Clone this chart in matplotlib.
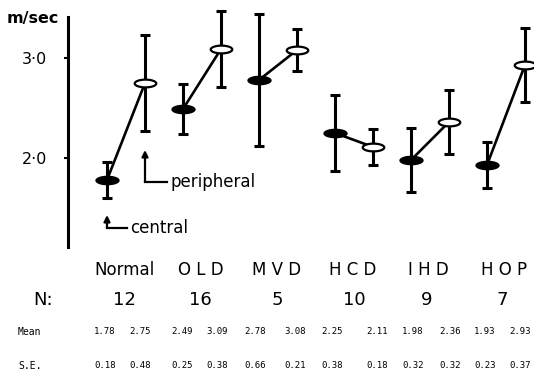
import numpy as np
import matplotlib
matplotlib.use('Agg')
import matplotlib.pyplot as plt
from matplotlib.path import Path

groups = ['Normal', 'O L D', 'M V D', 'H C D', 'I H D', 'H O P']
n_cases = [12, 16, 5, 10, 9, 7]
mean_central = [1.78, 2.49, 2.78, 2.25, 1.98, 1.93]
mean_peripheral = [2.75, 3.09, 3.08, 2.11, 2.36, 2.93]
se_central = [0.18, 0.25, 0.66, 0.38, 0.32, 0.23]
se_peripheral = [0.48, 0.38, 0.21, 0.18, 0.32, 0.37]

W, H = 534, 378

def fpos(x, y):
    # pixel position -> figure fraction
    return x / W, 1 - y / H

fig = plt.figure(figsize=(W / 100, H / 100), dpi=100)

# y: 3.0 at 58 px, 2.0 at 158 px ; x: slot 0 at 107 px, 38 px per slot
ylo, yhi = 1.10, 3.50
top_px = 58 - (yhi - 3.0) * 100
bot_px = 158 + (2.0 - ylo) * 100
ax = fig.add_axes([68 / W, 1 - bot_px / H, 1 - 68 / W, (bot_px - top_px) / H])
ax.set_xlim(-39 / 38, (W - 107) / 38)
ax.set_ylim(ylo, yhi)

x_c = np.arange(len(groups)) * 2.0
x_p = x_c + 1.0

# ellipse marker
t = np.linspace(0, 2 * np.pi, 80)
ell = Path(np.column_stack([np.cos(t), 0.36 * np.sin(t)]), closed=True)

for i in range(len(groups)):
    ax.plot([x_c[i], x_p[i]], [mean_central[i], mean_peripheral[i]],
            color='k', lw=1.9, zorder=2)

ax.errorbar(x_c, mean_central, yerr=se_central, fmt='none', ecolor='k',
            elinewidth=2.2, capsize=3.6, capthick=2.2, zorder=3)
ax.errorbar(x_p, mean_peripheral, yerr=se_peripheral, fmt='none', ecolor='k',
            elinewidth=2.2, capsize=3.6, capthick=2.2, zorder=3)
ax.plot(x_c, mean_central, ls='none', marker=ell, ms=16.5, mfc='k', mec='k',
        zorder=4, clip_on=False)
ax.plot(x_p, mean_peripheral, ls='none', marker=ell, ms=15.5, mfc='white',
        mec='k', mew=1.6, zorder=4, clip_on=False)

for s in ['top', 'right', 'bottom']:
    ax.spines[s].set_visible(False)
ax.spines['left'].set_linewidth(2.2)
ax.spines['left'].set_bounds(1.11, 3.41)
ax.set_xticks([])
ax.set_yticks([2.0, 3.0])
ax.set_yticklabels(['2·0', '3·0'], fontsize=11.5)
ax.tick_params(axis='y', length=3, width=1.5, pad=12)

fig.text(*fpos(7, 19), 'm/sec', fontsize=11.5, fontweight='bold',
         ha='left', va='center')

# arrows
ax.annotate('', xy=(0, 1.43), xytext=(0, 1.30),
            arrowprops=dict(arrowstyle='-|>', color='k', lw=1.6,
                            mutation_scale=9, shrinkA=0, shrinkB=0))
ax.plot([0, 0.53], [1.30, 1.30], color='k', lw=1.6)
ax.text(0.61, 1.30, 'central', fontsize=12, ha='left', va='center')

ax.annotate('', xy=(1, 2.08), xytext=(1, 1.76),
            arrowprops=dict(arrowstyle='-|>', color='k', lw=1.6,
                            mutation_scale=9, shrinkA=0, shrinkB=0))
ax.plot([1, 1.58], [1.76, 1.76], color='k', lw=1.6)
ax.text(1.66, 1.76, 'peripheral', fontsize=12, ha='left', va='center')

# table below the chart
head_x = [125, 201, 277, 353, 428, 504]
n_x = [124, 200, 277, 354, 427, 502]
col_x = [105, 140, 182, 217, 255, 295, 332, 377, 413, 450, 485, 520]

for i, g in enumerate(groups):
    fig.text(*fpos(head_x[i], 270), g, fontsize=12, ha='center', va='center')
    fig.text(*fpos(n_x[i], 300), str(n_cases[i]), fontsize=13,
             ha='center', va='center')
fig.text(*fpos(43, 300), 'N:', fontsize=13, ha='center', va='center')

fig.text(*fpos(18, 332), 'Mean', fontsize=7, family='DejaVu Sans Mono',
         ha='left', va='center')
fig.text(*fpos(18, 366), 'S.E.', fontsize=7, family='DejaVu Sans Mono',
         ha='left', va='center')
means = []
ses = []
for i in range(len(groups)):
    means += [mean_central[i], mean_peripheral[i]]
    ses += [se_central[i], se_peripheral[i]]
for j in range(len(col_x)):
    fig.text(*fpos(col_x[j], 332), f'{means[j]:.2f}', fontsize=6.5,
             family='DejaVu Sans Mono', ha='center', va='center')
    fig.text(*fpos(col_x[j], 366), f'{ses[j]:.2f}', fontsize=6.5,
             family='DejaVu Sans Mono', ha='center', va='center')

fig.savefig('out.png', dpi=100)
